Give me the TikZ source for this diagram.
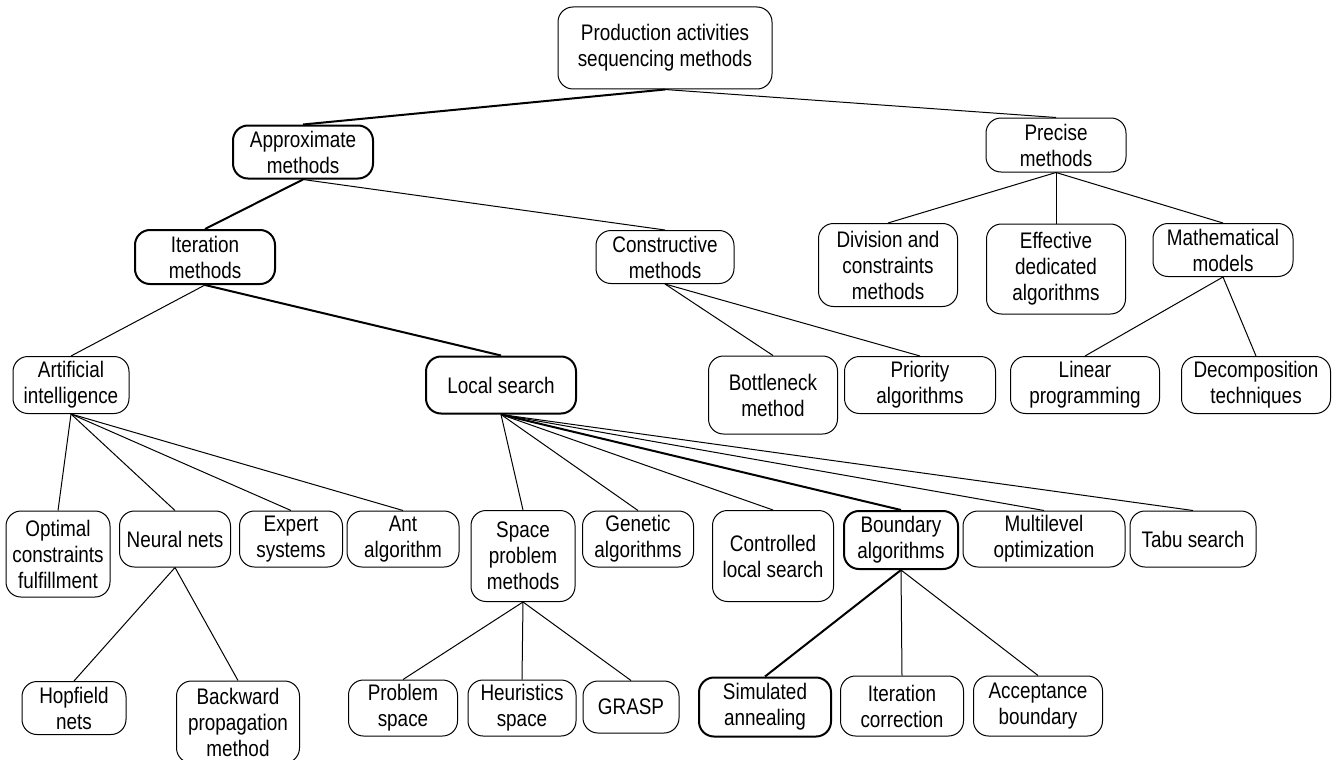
\documentclass[tikz,border=0pt]{standalone}
\usepackage{fontspec}
\setmainfont{Liberation Sans}[FakeStretch=0.84]
\begin{document}
\begin{tikzpicture}[x=1pt,y=-1pt,
  box/.style={draw, rounded corners=15pt, align=center, inner sep=0pt, line width=1pt,
    font=\fontsize{22.5}{26}\selectfont},
  tbox/.style={box, line width=2pt},
  link/.style={line width=1pt},
  tlink/.style={line width=2pt}]
\useasboundingbox (0,0) rectangle (1339,760);
\node[box, minimum width=214pt, minimum height=82pt] (root) at (665,48) {Production activities\\sequencing methods};
\node[tbox, minimum width=140pt, minimum height=53pt] (approx) at (303,152) {Approximate\\methods};
\node[box, minimum width=140pt, minimum height=54pt] (precise) at (1056,145) {Precise\\methods};
\node[tbox, minimum width=140pt, minimum height=54pt] (iter) at (205,257) {Iteration\\methods};
\node[box, minimum width=138pt, minimum height=53pt] (constr) at (665,257) {Constructive\\methods};
\node[box, minimum width=139pt, minimum height=83pt] (division) at (888,265) {Division and\\constraints\\methods};
\node[box, minimum width=139pt, minimum height=90pt] (effective) at (1056,269) {Effective\\dedicated\\algorithms};
\node[box, minimum width=140pt, minimum height=53pt] (math) at (1223,250) {Mathematical\\models};
\node[box, minimum width=129pt, minimum height=78pt] (bottleneck) at (773,395) {Bottleneck\\method};
\node[box, minimum width=151pt, minimum height=57pt] (priority) at (920,385) {Priority\\algorithms};
\node[box, minimum width=149pt, minimum height=57pt] (linear) at (1085,385) {Linear\\programming};
\node[box, minimum width=149pt, minimum height=57pt] (decomp) at (1256,385) {Decomposition\\techniques};
\node[box, minimum width=116pt, minimum height=57pt] (ai) at (71,385) {Artificial\\intelligence};
\node[tbox, minimum width=150pt, minimum height=57pt] (local) at (501,385) {Local search};
\node[box, minimum width=104pt, minimum height=86pt] (optimal) at (58,554) {Optimal\\constraints\\fulfillment};
\node[box, minimum width=111pt, minimum height=56pt] (neural) at (175,539) {Neural nets};
\node[box, minimum width=103pt, minimum height=56pt] (expert) at (291,539) {Expert\\systems};
\node[box, minimum width=112pt, minimum height=56pt] (ant) at (403,539) {Ant\\algorithm};
\node[box, minimum width=104pt, minimum height=91pt] (space) at (523,556) {Space\\problem\\methods};
\node[box, minimum width=111pt, minimum height=56pt] (genetic) at (638,539) {Genetic\\algorithms};
\node[box, minimum width=121pt, minimum height=91pt] (controlled) at (773,556) {Controlled\\local search};
\node[tbox, minimum width=114pt, minimum height=58pt] (boundary) at (901,540) {Boundary\\algorithms};
\node[box, minimum width=162pt, minimum height=56pt] (multilevel) at (1044,539) {Multilevel\\optimization};
\node[box, minimum width=126pt, minimum height=56pt] (tabu) at (1193,539) {Tabu search};
\node[box, minimum width=104pt, minimum height=53pt] (hopfield) at (74,708) {Hopfield\\nets};
\node[box, minimum width=123pt, minimum height=82pt] (backward) at (238,722) {Backward\\propagation\\method};
\node[box, minimum width=109pt, minimum height=56pt] (problem) at (403,708) {Problem\\space};
\node[box, minimum width=108pt, minimum height=56pt] (heuristics) at (522,708) {Heuristics\\space};
\node[box, minimum width=96pt, minimum height=52pt] (grasp) at (631,707) {GRASP};
\node[tbox, minimum width=132pt, minimum height=59pt] (simulated) at (765,707) {Simulated\\annealing};
\node[box, minimum width=123pt, minimum height=60pt] (itercorr) at (902,706) {Iteration\\correction};
\node[box, minimum width=129pt, minimum height=60pt] (acceptance) at (1038,706) {Acceptance\\boundary};

\draw[tlink] (root.south) -- (approx.north);
\draw[link] (root.south) -- (precise.north);
\draw[tlink] (approx.south) -- (iter.north);
\draw[link] (approx.south) -- (constr.north);
\draw[link] (iter.south) -- (ai.north);
\draw[tlink] (iter.south) -- (local.north);
\draw[link] (constr.south) -- (bottleneck.north);
\draw[link] (constr.south) -- (priority.north);
\draw[link] (precise.south) -- (division.north);
\draw[link] (precise.south) -- (effective.north);
\draw[link] (precise.south) -- (math.north);
\draw[link] (math.south) -- (linear.north);
\draw[link] (math.south) -- (decomp.north);
\draw[link] (ai.south) -- (optimal.north);
\draw[link] (ai.south) -- (neural.north);
\draw[link] (ai.south) -- (expert.north);
\draw[link] (ai.south) -- (ant.north);
\draw[link] (neural.south) -- (hopfield.north);
\draw[link] (neural.south) -- (backward.north);
\draw[link] (local.south) -- (space.north);
\draw[link] (local.south) -- (genetic.north);
\draw[link] (local.south) -- (controlled.north);
\draw[tlink] (local.south) -- (boundary.north);
\draw[link] (local.south) -- (multilevel.north);
\draw[link] (local.south) -- (tabu.north);
\draw[link] (space.south) -- (problem.north);
\draw[link] (space.south) -- (heuristics.north);
\draw[link] (space.south) -- (grasp.north);
\draw[tlink] (boundary.south) -- (simulated.north);
\draw[link] (boundary.south) -- (itercorr.north);
\draw[link] (boundary.south) -- (acceptance.north);
\end{tikzpicture}
\end{document}
